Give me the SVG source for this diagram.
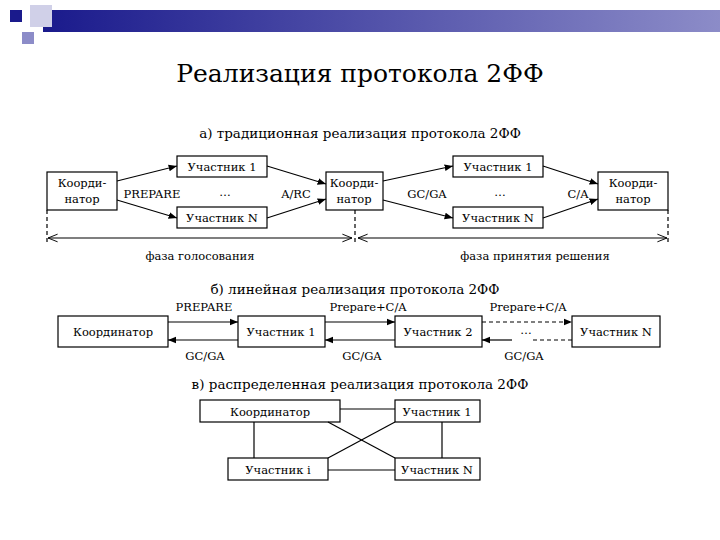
<svg xmlns="http://www.w3.org/2000/svg" width="720" height="540" viewBox="0 0 720 540" font-family="'DejaVu Serif', 'Liberation Serif', serif">
<defs>
<linearGradient id="bar" x1="0" x2="1"><stop offset="0" stop-color="#1a1a8c"/><stop offset="1" stop-color="#8c8cc8"/></linearGradient>
<marker id="ah" viewBox="0 0 10 10" refX="10" refY="5" markerWidth="7" markerHeight="7" orient="auto-start-reverse"><path d="M0,1 L10,5 L0,9 z" fill="#000"/></marker>
<marker id="oh" viewBox="0 0 10 10" refX="10" refY="5" markerWidth="8" markerHeight="8" orient="auto-start-reverse"><path d="M0,1 L10,5 L0,9" fill="none" stroke="#000" stroke-width="1"/></marker>
</defs>
<style>
text{font-family:'DejaVu Serif','Liberation Serif',serif;fill:#000}
.h{font-size:13.5px;text-anchor:middle}
.l{font-size:11.5px;text-anchor:middle}
rect.b{fill:#fff;stroke:#000;stroke-width:1.2}
.c line,.c path{stroke:#000;stroke-width:1.2;fill:none}
.d{stroke-dasharray:4,3}
</style>
<rect width="720" height="540" fill="#fff"/>
<g id="deco">
<rect x="43" y="10" width="677" height="22" fill="url(#bar)"/>
<rect x="30" y="5" width="22" height="22" fill="#d0d0e8"/>
<rect x="10" y="10" width="12" height="12" fill="#1a1a8c"/>
<rect x="22" y="32" width="12" height="12" fill="#8c8cc8"/>
</g>
<text x="360" y="82" text-anchor="middle" style="font-size:25px">Реализация протокола 2ФФ</text>

<text x="360" y="138" class="h">а) традиционная реализация протокола 2ФФ</text>
<g id="a_coord1"><rect class="b" x="47" y="172" width="70" height="38"/><text x="82" y="187" class="l">Коорди-</text><text x="82" y="203" class="l">натор</text></g>
<g id="a_p1"><rect class="b" x="177" y="156" width="90" height="21"/><text x="222" y="171" class="l">Участник 1</text></g>
<g id="a_pn"><rect class="b" x="177" y="207" width="90" height="21"/><text x="222" y="222" class="l">Участник N</text></g>
<g id="a_coord2"><rect class="b" x="326" y="172" width="57" height="38"/><text x="354" y="187" class="l">Коорди-</text><text x="354" y="203" class="l">натор</text></g>
<g id="a_p1b"><rect class="b" x="453" y="156" width="90" height="21"/><text x="498" y="171" class="l">Участник 1</text></g>
<g id="a_pnb"><rect class="b" x="453" y="207" width="90" height="21"/><text x="498" y="222" class="l">Участник N</text></g>
<g id="a_coord3"><rect class="b" x="598" y="172" width="70" height="38"/><text x="633" y="187" class="l">Коорди-</text><text x="633" y="203" class="l">натор</text></g>
<text x="152" y="198" class="l">PREPARE</text><text x="225" y="196" class="l">…</text><text x="296" y="198" class="l">A/RC</text>
<text x="427" y="198" class="l">GC/GA</text><text x="500" y="196" class="l">…</text><text x="578" y="198" class="l">C/A</text>
<text x="200" y="260" class="l">фаза голосования</text><text x="535" y="260" class="l">фаза принятия решения</text>

<text x="355" y="294" class="h">б) линейная реализация протокола 2ФФ</text>
<g id="b_coord"><rect class="b" x="58" y="316" width="110" height="31"/><text x="113" y="336" class="l">Координатор</text></g>
<g id="b_p1"><rect class="b" x="238" y="316" width="87" height="31"/><text x="281" y="336" class="l">Участник 1</text></g>
<g id="b_p2"><rect class="b" x="395" y="316" width="87" height="31"/><text x="438" y="336" class="l">Участник 2</text></g>
<g id="b_pn"><rect class="b" x="572" y="316" width="88" height="31"/><text x="616" y="336" class="l">Участник N</text></g>
<text x="204" y="311" class="l">PREPARE</text><text x="368" y="311" class="l">Prepare+C/A</text><text x="528" y="311" class="l">Prepare+C/A</text>
<text x="205" y="360" class="l">GC/GA</text><text x="362" y="360" class="l">GC/GA</text><text x="524" y="360" class="l">GC/GA</text>
<text x="526" y="334" class="l">…</text>

<text x="360" y="389" class="h">в) распределенная реализация протокола 2ФФ</text>
<g id="c_coord"><rect class="b" x="200" y="400" width="140" height="22"/><text x="270" y="416" class="l">Координатор</text></g>
<g id="c_p1"><rect class="b" x="395" y="400" width="85" height="22"/><text x="437" y="416" class="l">Участник 1</text></g>
<g id="c_pi"><rect class="b" x="228" y="458" width="100" height="22"/><text x="278" y="474" class="l">Участник i</text></g>
<g id="c_pn"><rect class="b" x="395" y="458" width="85" height="22"/><text x="437" y="474" class="l">Участник N</text></g>

<g id="connectors" class="c">
<line x1="117" y1="181" x2="177" y2="166" marker-end="url(#ah)"/>
<line x1="117" y1="200" x2="177" y2="218" marker-end="url(#ah)"/>
<line x1="267" y1="166" x2="326" y2="184" marker-end="url(#ah)"/>
<line x1="267" y1="218" x2="326" y2="199" marker-end="url(#ah)"/>
<line x1="383" y1="181" x2="453" y2="166" marker-end="url(#ah)"/>
<line x1="383" y1="200" x2="453" y2="218" marker-end="url(#ah)"/>
<line x1="543" y1="166" x2="598" y2="184" marker-end="url(#ah)"/>
<line x1="543" y1="218" x2="598" y2="199" marker-end="url(#ah)"/>
<line class="d" x1="47" y1="210" x2="47" y2="245"/>
<line class="d" x1="355" y1="210" x2="355" y2="245"/>
<line class="d" x1="668" y1="210" x2="668" y2="245"/>
<line x1="48" y1="238" x2="352" y2="238" marker-start="url(#oh)" marker-end="url(#oh)"/>
<line x1="358" y1="238" x2="667" y2="238" marker-start="url(#oh)" marker-end="url(#oh)"/>
<line x1="168" y1="322" x2="238" y2="322" marker-end="url(#ah)"/>
<line x1="238" y1="340" x2="168" y2="340" marker-end="url(#ah)"/>
<line x1="325" y1="322" x2="395" y2="322" marker-end="url(#ah)"/>
<line x1="395" y1="340" x2="325" y2="340" marker-end="url(#ah)"/>
<line class="d" x1="482" y1="322" x2="572" y2="322" marker-end="url(#ah)"/>
<path class="d" d="M572,340 H530"/>
<line x1="512" y1="340" x2="482" y2="340" marker-end="url(#ah)"/>
<line x1="340" y1="409" x2="395" y2="409"/>
<line x1="328" y1="470" x2="395" y2="470"/>
<line x1="254" y1="422" x2="254" y2="458"/>
<line x1="442" y1="422" x2="442" y2="458"/>
<line x1="328" y1="422" x2="395" y2="458"/>
<line x1="328" y1="458" x2="395" y2="422"/>
</g>
</svg>
